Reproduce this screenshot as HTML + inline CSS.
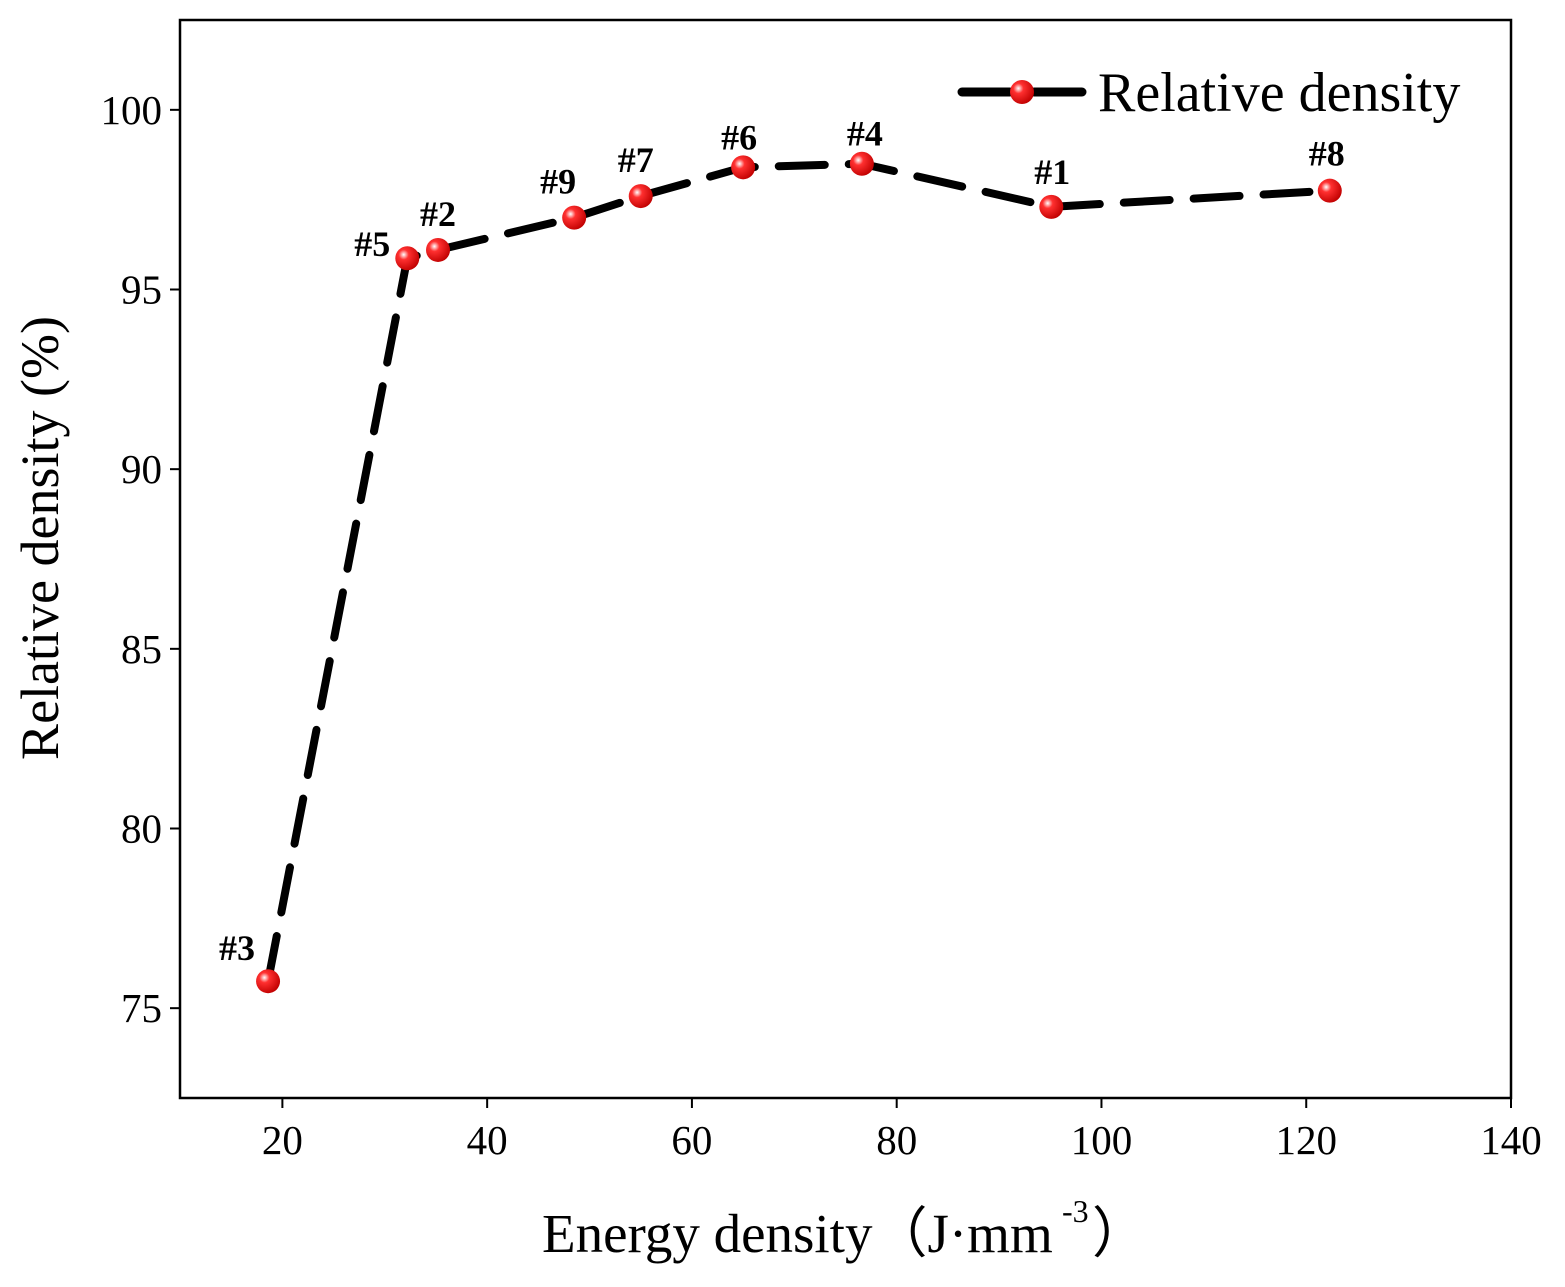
<!DOCTYPE html>
<html><head><meta charset="utf-8"><style>
body{margin:0;background:#fff}
svg{display:block;font-family:"Liberation Serif",serif}
</style></head><body>
<svg width="1565" height="1287">
<defs><radialGradient id="g" cx="0.35" cy="0.35" r="0.7"><stop offset="0" stop-color="#fff"/><stop offset="0.3" stop-color="#ff3030"/><stop offset="1" stop-color="#c00000"/></radialGradient></defs>
<g id="root"></g>
</svg>
<script>
const labels=["#3","#5","#2","#9","#7","#6","#4","#1","#8"];
const energy=[18.6,32.2,35.2,48.5,55.0,65.0,76.6,95.1,122.3];
const density=[75.75,95.87,96.1,97.0,97.6,98.4,98.5,97.3,97.75];
const xTicks=[20,40,60,80,100,120,140];
const yTicks=[75,80,85,90,95,100];
const labelDx=[-31,-35,0,-16,-5,-4,3,1,-3];
const labelDy=[-21,-2,-24,-24,-24,-18,-18,-23,-25];
const L=180,R=1511,T=20,B=1098;
const sx=v=>L+(v-10)/130*(R-L);
const sy=v=>B-(v-72.5)/30*(B-T);
const NS="http://www.w3.org/2000/svg";
const root=document.getElementById('root');
function mk(t,a,txt){const e=document.createElementNS(NS,t);for(const k in a)e.setAttribute(k,a[k]);if(txt!=null)e.textContent=txt;root.appendChild(e);return e;}
let e;
e=mk('rect',{x:L,y:T,width:R-L,height:B-T,fill:'none',stroke:'#000','stroke-width':2.5});


xTicks.forEach(v=>{
 e=mk('line',{x1:sx(v),x2:sx(v),y1:B,y2:B+10,stroke:'#000','stroke-width':2});
 
 
 e=mk('text',{x:sx(v),y:B+56,'font-size':41,'text-anchor':'middle'},v);
 
 
});
yTicks.forEach(v=>{
 e=mk('line',{x1:L-10,x2:L,y1:sy(v),y2:sy(v),stroke:'#000','stroke-width':2});
 
 
 e=mk('text',{x:L-18,y:sy(v)+14,'font-size':41,'text-anchor':'end'},v);
 
 
});
e=mk('text',{x:542,y:1252,'font-size':55},'Energy density（J·mm');


e=mk('text',{x:1062,y:1222,'font-size':32},'-3');


e=mk('text',{x:1092,y:1252,'font-size':55},'）');


e=mk('text',{x:0,y:0,'font-size':54,'text-anchor':'middle',transform:'translate(58,538) rotate(-90)'},'Relative density (%)');


e=mk('polyline',{points:energy.map((v,i)=>sx(v)+','+sy(density[i])).join(' '),fill:'none',stroke:'#000','stroke-width':8,'stroke-dasharray':'46 24','stroke-linecap':'round'});


energy.forEach((v,i)=>{
 e=mk('circle',{cx:sx(v),cy:sy(density[i]),r:12,fill:'url(#g)'});
 
 
 e=mk('text',{x:sx(v)+labelDx[i],y:sy(density[i])+labelDy[i],'font-size':36,'font-weight':'bold','text-anchor':'middle'},labels[i]);
 
 
});
e=mk('line',{x1:962,x2:1082,y1:92,y2:92,stroke:'#000','stroke-width':9,'stroke-dasharray':'48 24','stroke-linecap':'round'});


e=mk('circle',{cx:1022,cy:92,r:12,fill:'url(#g)'});


e=mk('text',{x:1098,y:111,'font-size':56},'Relative density');


</script>
</body></html>
